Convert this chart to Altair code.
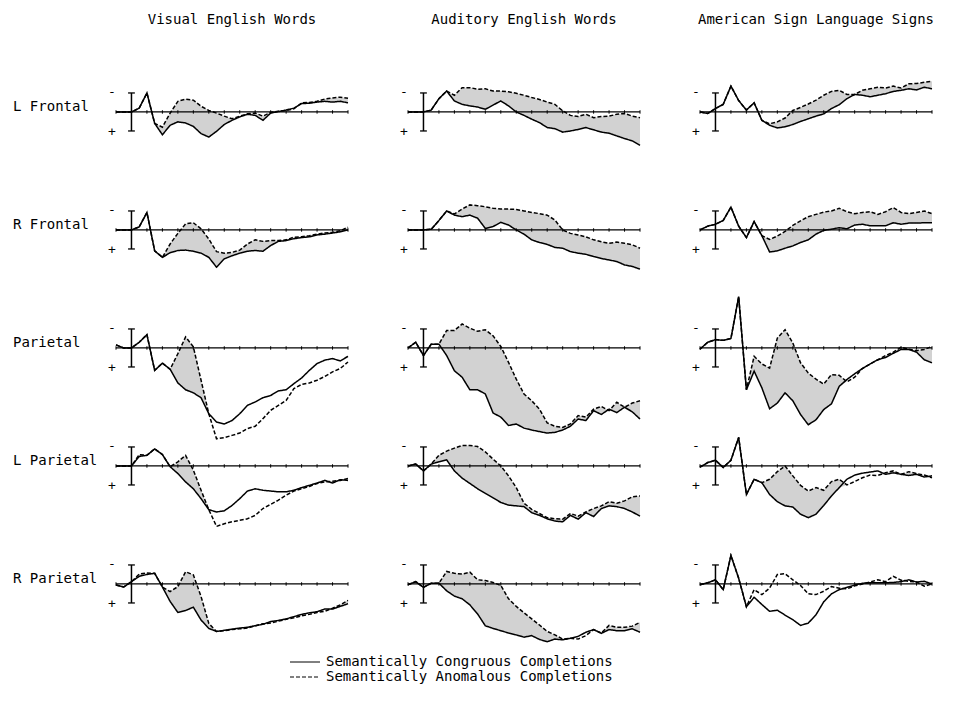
import altair as alt
import pandas as pd

FONT = "DejaVu Sans Mono"

# time axis (ms), one sample every 50 ms, epoch -100 .. 1400 ms
T = list(range(-100, 1401, 50))

MODALITIES = ["Visual English Words", "Auditory English Words", "American Sign Language Signs"]
SITES = ["L Frontal", "R Frontal", "Parietal", "L Parietal", "R Parietal"]
CONDITIONS = ["Semantically Congruous Completions", "Semantically Anomalous Completions"]

# amplitudes in microvolts (negative plotted up); calibration bar = +/-5 uV
vis_lf_cong = [0, 0, 0, -1.0, -5.0, 3.0, 6.0, 3.5, 2.6, 2.9, 3.8, 5.7, 6.6, 5.1, 3.3, 2.2, 1.3, 0.6, 0.9, 2.2, 0.3, -0.1, -0.5, -1.0, -2.2, -2.3, -2.6, -2.8, -2.6, -2.8, -2.4]
vis_lf_anom = [0, 0, 0, -1.0, -5.0, 3.0, 4.0, 0.3, -2.8, -3.4, -3.1, -1.5, -0.4, 0.3, 1.1, 1.8, 1.1, 0.5, 0.3, 1.1, 0.1, -0.2, -0.4, -0.8, -2.4, -2.5, -2.8, -3.4, -3.7, -3.9, -3.6]
vis_rf_cong = [0, 0, 0, -0.8, -4.6, 5.5, 7.2, 6.0, 5.4, 5.3, 5.6, 6.1, 7.2, 9.8, 7.6, 6.8, 6.1, 5.6, 5.4, 5.6, 4.1, 3.0, 2.8, 2.3, 2.0, 1.8, 1.3, 1.1, 0.8, 0.5, 0.0]
vis_rf_anom = [0, 0, 0, -0.8, -4.6, 5.5, 7.2, 3.7, 0.9, -1.6, -1.9, -0.3, 2.4, 5.7, 6.1, 5.9, 5.3, 3.7, 2.6, 3.0, 2.8, 2.8, 2.6, 1.9, 1.8, 1.5, 1.1, 0.8, 0.6, 0.2, -0.7]
vis_par_cong = [-0.8, 0, 0, -1.5, -3.5, 5.9, 4.0, 5.6, 9.2, 11.0, 11.8, 13.1, 17.3, 19.5, 20.0, 19.1, 17.3, 15.1, 14.2, 13.1, 12.5, 11.3, 11.0, 9.4, 7.9, 5.9, 4.1, 3.2, 2.8, 3.4, 2.2]
vis_par_anom = [-0.8, 0, 0, -1.5, -3.5, 5.9, 4.0, 5.6, 1.5, -2.9, -0.3, 8.5, 17.3, 23.9, 23.6, 23.0, 22.4, 21.2, 20.6, 18.6, 16.4, 15.1, 13.8, 10.7, 9.6, 9.2, 8.5, 7.5, 6.3, 5.4, 3.7]
vis_lpar_cong = [0, 0, 0, -2.5, -2.8, -4.5, -3.0, 0.2, 2.0, 4.2, 6.0, 8.6, 11.5, 12.1, 11.8, 10.4, 8.6, 6.6, 6.0, 6.4, 6.6, 6.8, 6.8, 6.4, 5.7, 5.1, 4.5, 3.8, 4.5, 3.6, 3.8]
vis_lpar_anom = [0, 0, 0, -3.0, -2.8, -4.5, -3.0, 0.2, -1.1, -2.8, 1.1, 6.4, 11.5, 15.9, 15.2, 14.7, 14.3, 13.9, 13.0, 11.2, 10.1, 9.0, 7.7, 6.6, 6.0, 5.4, 4.6, 4.2, 4.0, 3.8, 3.3]
vis_rpar_cong = [0.3, 0.8, -0.6, -2.0, -2.5, -2.8, 0.8, 4.6, 7.5, 7.0, 6.1, 9.5, 11.7, 12.5, 12.2, 11.9, 11.6, 11.4, 11.0, 10.6, 9.9, 9.6, 9.2, 8.6, 8.0, 7.6, 7.3, 6.6, 6.6, 5.9, 5.2]
vis_rpar_anom = [0.3, 0.8, -0.6, -2.6, -2.9, -2.8, 0.8, 2.0, 0.7, -3.2, -2.4, 3.3, 10.4, 12.5, 12.3, 12.0, 11.8, 11.6, 11.0, 10.5, 10.3, 9.8, 9.3, 8.9, 8.4, 8.0, 7.5, 7.2, 6.4, 5.5, 4.3]

aud_lf_cong = [0, 0, 0, -0.5, -3.5, -5.5, -2.9, -2.0, -1.6, -1.3, -0.7, -1.8, -2.9, -1.6, 0, 0.9, 1.9, 2.8, 4.1, 4.4, 5.3, 5.0, 4.6, 4.1, 4.7, 5.3, 5.6, 6.3, 7.0, 7.6, 8.8]
aud_lf_anom = [0, 0, 0, -0.5, -3.5, -5.5, -4.4, -6.4, -6.4, -6.0, -6.1, -5.5, -5.5, -5.3, -4.9, -4.4, -3.8, -3.3, -2.6, -2.0, -0.3, 0.9, 1.2, 0.6, 1.5, 1.2, 1.1, 0.6, 0.4, 1.1, 1.5]
aud_rf_cong = [0, 0, 0, -0.2, -2.5, -5.0, -3.9, -3.5, -3.9, -3.1, -0.4, -0.9, -2.0, -1.3, 0, 1.1, 2.6, 3.3, 3.8, 4.6, 4.8, 5.7, 6.1, 6.4, 7.0, 7.5, 7.9, 8.3, 9.2, 9.6, 10.3]
aud_rf_anom = [0, 0, 0, -0.2, -2.5, -5.0, -4.2, -5.5, -6.6, -6.4, -6.1, -5.7, -5.5, -5.5, -5.4, -5.0, -4.6, -4.3, -3.9, -2.6, 0, 0.9, 1.3, 1.8, 2.6, 3.1, 3.5, 3.2, 3.5, 3.9, 4.8]
aud_par_cong = [0, -1.5, 2.0, -1.0, -1.0, 2.0, 6.0, 7.7, 11.0, 11.0, 12.1, 17.1, 18.2, 20.4, 20.0, 21.1, 21.6, 22.0, 22.4, 22.2, 21.6, 20.6, 18.7, 19.1, 16.5, 17.5, 16.1, 17.0, 15.6, 16.8, 18.7]
aud_par_anom = [0, -1.5, 2.0, -1.0, -1.0, -4.6, -4.6, -6.3, -5.2, -4.4, -4.8, -3.2, -0.4, 3.8, 8.2, 12.1, 13.9, 16.1, 19.7, 20.6, 20.9, 20.0, 17.8, 18.2, 16.1, 15.4, 16.5, 14.3, 15.6, 14.5, 13.9]
aud_lpar_cong = [0, -0.5, 1.3, -0.5, -1.1, -1.6, 1.3, 3.2, 4.6, 6.0, 7.2, 8.4, 9.6, 10.3, 10.5, 10.7, 12.3, 13.0, 13.9, 14.5, 14.7, 13.0, 14.0, 12.3, 13.3, 11.2, 10.5, 10.7, 11.2, 12.1, 13.2]
aud_lpar_anom = [0, -0.5, 1.3, -0.5, -2.8, -3.9, -4.7, -5.4, -5.4, -5.1, -3.7, -1.8, 0, 2.6, 5.7, 9.8, 11.4, 12.5, 13.6, 13.9, 14.0, 12.5, 13.2, 12.1, 11.2, 10.5, 9.4, 9.8, 9.2, 8.1, 7.9]
aud_rpar_cong = [0.2, -0.6, 0.9, -0.2, -0.2, 1.8, 3.2, 3.9, 5.5, 7.9, 11.0, 11.7, 12.3, 12.9, 13.4, 14.0, 13.6, 14.6, 15.2, 14.5, 14.7, 14.3, 13.8, 12.7, 12.0, 13.0, 12.0, 12.3, 12.3, 11.8, 12.7]
aud_rpar_anom = [0.2, -0.6, 0.9, -0.2, -0.2, -3.3, -2.8, -2.6, -3.1, -1.1, -0.9, -0.4, 0.4, 3.9, 5.9, 7.6, 9.2, 10.8, 12.5, 13.4, 14.5, 14.3, 14.5, 13.6, 12.0, 12.9, 10.9, 11.4, 11.4, 11.1, 10.1]

asl_lf_cong = [0, 0.4, -0.9, -2.0, -6.8, -3.0, -0.5, -2.4, 2.2, 3.5, 4.2, 3.9, 3.3, 2.5, 1.8, 1.1, 0.5, -0.9, -1.9, -3.5, -4.6, -4.4, -4.0, -4.4, -4.8, -5.4, -5.7, -6.1, -5.8, -6.5, -6.1]
asl_lf_anom = [0, 0.4, -0.9, -2.0, -6.8, -3.0, -0.5, -2.4, 2.2, 3.1, 2.6, 1.6, -0.4, -1.2, -2.1, -3.1, -4.4, -5.4, -5.7, -4.6, -4.6, -5.7, -6.1, -6.5, -6.3, -6.8, -6.3, -7.4, -7.5, -7.8, -8.1]
asl_rf_cong = [0, -1.0, -1.5, -2.5, -6.0, -1.0, 2.0, -2.2, 1.5, 5.8, 5.5, 4.8, 4.2, 3.3, 2.6, 1.1, 0.1, -0.2, -0.6, -0.3, -1.3, -1.5, -1.1, -1.1, -1.1, -1.9, -1.5, -1.8, -1.8, -1.9, -1.9]
asl_rf_anom = [0, -1.0, -1.5, -2.5, -6.0, -1.0, 2.0, -2.2, 1.5, 2.5, 1.6, 0.4, -1.2, -2.4, -3.5, -4.1, -4.7, -5.0, -5.7, -4.8, -4.3, -4.6, -4.8, -4.1, -4.8, -5.9, -4.6, -4.3, -4.6, -5.0, -4.3]
asl_par_cong = [0.3, -1.5, -2.2, -2.0, -2.5, -13.5, 11.0, 6.1, 10.5, 16.0, 14.5, 11.8, 13.9, 17.5, 20.2, 18.9, 16.2, 14.7, 10.1, 8.3, 6.8, 5.4, 4.2, 3.1, 2.5, 1.4, 0.4, 0.4, 1.1, 3.1, 3.9]
asl_par_anom = [0.3, -1.5, -2.2, -2.0, -2.5, -13.5, 11.0, 2.2, 4.2, 5.3, -2.6, -4.8, -1.3, 3.9, 6.6, 8.2, 9.5, 7.0, 7.2, 8.9, 7.7, 5.4, 4.2, 3.1, 2.0, 1.1, -0.2, 0.3, 0.7, 0.4, -0.4]
asl_lpar_cong = [0.3, -0.9, -1.5, 0.4, -1.5, -7.5, 7.5, 3.5, 4.4, 7.5, 9.4, 10.5, 10.8, 12.7, 13.6, 12.7, 10.4, 7.9, 5.7, 3.5, 2.4, 1.9, 1.6, 1.3, 2.2, 1.8, 2.2, 2.5, 2.2, 2.9, 2.6]
asl_lpar_anom = [0.3, -0.9, -1.5, 0.4, -1.5, -7.5, 7.5, 3.5, 4.4, 3.5, 1.5, 0, 2.6, 5.1, 6.6, 5.7, 6.4, 4.1, 3.5, 5.0, 4.1, 3.1, 2.4, 2.5, 1.8, 1.3, 2.2, 1.5, 2.0, 2.4, 3.1]
asl_rpar_cong = [0.2, -0.3, -1.1, 1.5, -7.5, -1.5, 6.0, 3.5, 5.4, 7.2, 6.9, 8.2, 9.4, 10.9, 10.3, 8.1, 4.7, 2.6, 1.5, 0.9, 0.3, -0.2, -0.3, -0.3, -0.3, -0.4, -0.6, -1.1, -0.5, -0.7, 0]
asl_rpar_anom = [0.2, -0.3, -1.1, 1.5, -7.5, -1.5, 6.0, 1.5, 2.8, 1.1, -2.5, -2.7, -1.1, 0.4, 2.6, 2.8, 1.9, 0.7, 1.1, 1.3, 0.5, 0, -0.5, -1.1, -0.6, -2.0, -1.0, -0.7, -0.5, 0.6, 0]

PANELS = {
    (MODALITIES[0], SITES[0]): (vis_lf_cong, vis_lf_anom),
    (MODALITIES[0], SITES[1]): (vis_rf_cong, vis_rf_anom),
    (MODALITIES[0], SITES[2]): (vis_par_cong, vis_par_anom),
    (MODALITIES[0], SITES[3]): (vis_lpar_cong, vis_lpar_anom),
    (MODALITIES[0], SITES[4]): (vis_rpar_cong, vis_rpar_anom),
    (MODALITIES[1], SITES[0]): (aud_lf_cong, aud_lf_anom),
    (MODALITIES[1], SITES[1]): (aud_rf_cong, aud_rf_anom),
    (MODALITIES[1], SITES[2]): (aud_par_cong, aud_par_anom),
    (MODALITIES[1], SITES[3]): (aud_lpar_cong, aud_lpar_anom),
    (MODALITIES[1], SITES[4]): (aud_rpar_cong, aud_rpar_anom),
    (MODALITIES[2], SITES[0]): (asl_lf_cong, asl_lf_anom),
    (MODALITIES[2], SITES[1]): (asl_rf_cong, asl_rf_anom),
    (MODALITIES[2], SITES[2]): (asl_par_cong, asl_par_anom),
    (MODALITIES[2], SITES[3]): (asl_lpar_cong, asl_lpar_anom),
    (MODALITIES[2], SITES[4]): (asl_rpar_cong, asl_rpar_anom),
}
UNSHADED = [(MODALITIES[2], SITES[4])]

rows = []
for (mod, site), (cong, anom) in PANELS.items():
    assert len(cong) == len(T) and len(anom) == len(T), (mod, site)
    for t, c, a in zip(T, cong, anom):
        rows.append({"modality": mod, "site": site, "t": t, "cong": c, "anom": a,
                     "shade": 1 if (mod, site) not in UNSHADED else 0})
df = pd.DataFrame(rows)

X_SCALE = alt.Scale(domain=[-100, 1400], nice=False, zero=False)
Y_SCALE = alt.Scale(domain=[-9.2, 21.85], nice=False, zero=False, reverse=True)


def xq(field):
    return alt.X(f"{field}:Q", scale=X_SCALE, axis=None)


def yq(field):
    return alt.Y(f"{field}:Q", scale=Y_SCALE, axis=None)


# one row per panel, with the fixed reference positions of the frame elements
frame = alt.Chart().transform_filter("datum.t == -100").transform_calculate(
    t_end="1400", zero="0", cal_top="-5", cal_bot="5", cap_l="-22", cap_r="22",
    t_zero="0", minus_y="-5.3", plus_y="5.2", label_y="-1.3",
)

area = alt.Chart().transform_calculate(
    lo="datum.shade == 1 && datum.anom < datum.cong ? datum.cong : datum.anom"
).mark_area(color="#d2d2d2", opacity=1).encode(
    x=xq("t"), y=yq("anom"), y2=alt.Y2("lo:Q")
)

baseline = frame.mark_rule(color="black", strokeWidth=1.3).encode(
    x=xq("t"), x2=alt.X2("t_end:Q"), y=yq("zero")
)
ticks = alt.Chart().transform_filter("datum.t % 100 == 0").transform_calculate(
    tk_a="-0.45", tk_b="0.45"
).mark_rule(color="black", strokeWidth=1).encode(
    x=xq("t"), y=yq("tk_a"), y2=alt.Y2("tk_b:Q")
)
bar = frame.mark_rule(color="black", strokeWidth=1.5).encode(
    x=xq("t_zero"), y=yq("cal_top"), y2=alt.Y2("cal_bot:Q")
)
cap_top = frame.mark_rule(color="black", strokeWidth=1.3).encode(
    x=xq("cap_l"), x2=alt.X2("cap_r:Q"), y=yq("cal_top")
)
cap_bot = frame.mark_rule(color="black", strokeWidth=1.3).encode(
    x=xq("cap_l"), x2=alt.X2("cap_r:Q"), y=yq("cal_bot")
)
minus = frame.mark_text(
    text="-", font=FONT, fontSize=13, dx=-4, baseline="middle", color="#000000"
).encode(x=xq("t"), y=yq("minus_y"))
plus = frame.mark_text(
    text="+", font=FONT, fontSize=13, dx=-4, baseline="middle", color="#000000"
).encode(x=xq("t"), y=yq("plus_y"))
row_label = frame.transform_filter(
    f"datum.modality == '{MODALITIES[0]}'"
).mark_text(font=FONT, fontSize=14, align="left", baseline="middle", dx=-103, color="black").encode(
    x=xq("t"), y=yq("label_y"), text="site:N"
)

lines = alt.Chart().transform_fold(
    ["cong", "anom"], as_=["key", "uv"]
).transform_calculate(
    condition=f"datum.key == 'cong' ? '{CONDITIONS[0]}' : '{CONDITIONS[1]}'"
).mark_line(color="black", strokeWidth=1.5).encode(
    x=xq("t"),
    y=yq("uv"),
    strokeDash=alt.StrokeDash(
        "condition:N",
        scale=alt.Scale(domain=CONDITIONS, range=[[1, 0], [4, 2]]),
        legend=alt.Legend(
            orient="none", legendX=181, legendY=577, title=None,
            symbolType="M-2,0H2", symbolSize=225, symbolStrokeWidth=1,
            symbolStrokeColor="black", labelFont=FONT, labelFontSize=14,
            labelColor="black", labelOffset=13, rowPadding=0, labelLimit=0,
        ),
    ),
)

layered = alt.layer(
    area, baseline, ticks, bar, cap_top, cap_bot, minus, plus, row_label, lines, data=df
).properties(width=232, height=118)

chart = layered.facet(
    row=alt.Row("site:N", sort=SITES, header=alt.Header(labels=False, title="")),
    column=alt.Column("modality:N", sort=MODALITIES,
                      header=alt.Header(title="", labelFont=FONT, labelFontSize=14,
                                        labelColor="black", labelPadding=50)),
    spacing={"row": 0, "column": 60},
    bounds="flush",
).configure_view(stroke=None)

chart.save("out.html", embed_options={"renderer": "svg", "actions": False})
